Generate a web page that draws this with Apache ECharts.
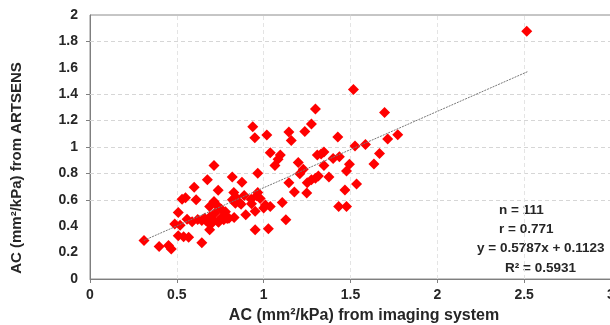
<!DOCTYPE html>
<html>
<head>
<meta charset="utf-8">
<script src="https://cdn.jsdelivr.net/npm/echarts@6/dist/echarts.min.js"></script>
<style>html,body{margin:0;padding:0;background:#fff}#c{width:610px;height:325px}</style>
</head>
<body>
<div id="c"></div>
<script>
// Points (x: imaging system, y: ARTSENS)
const xVals = [0.311,0.398,0.452,0.468,0.488,0.508,0.508,0.519,0.530,0.539,0.550,0.568,0.559,0.588,0.600,0.611,0.644,0.644,0.676,0.678,
0.689,0.689,0.714,0.714,0.738,0.738,0.756,0.770,0.790,0.819,0.828,0.830,0.837,0.875,0.870,0.897,0.888,0.928,0.937,0.949,
0.951,0.951,0.966,0.966,0.980,1.000,1.018,1.027,1.038,1.038,1.065,1.083,1.096,1.107,1.128,1.145,1.145,1.159,1.177,1.199,
1.208,1.228,1.237,1.248,1.251,1.275,1.275,1.298,1.298,1.315,1.309,1.331,1.347,1.347,1.376,1.400,1.427,1.436,1.432,1.468,
1.477,1.477,1.494,1.517,1.526,1.535,1.586,1.635,1.667,1.696,1.714,1.772,2.515,
0.62,0.66,0.67,0.69,0.70,0.71,0.72,0.73,0.74,0.76,0.78,0.80,0.82,0.84,0.86,0.93,0.96,1.01];
const yVals = [0.292,0.247,0.254,0.227,0.416,0.504,0.327,0.408,0.605,0.320,0.615,0.317,0.453,0.433,0.695,0.600,0.275,0.443,0.751,0.431,
0.373,0.549,0.859,0.587,0.673,0.436,0.529,0.448,0.458,0.773,0.655,0.466,0.574,0.733,0.567,0.486,0.632,0.605,1.154,1.071,
0.514,0.373,0.801,0.655,0.610,0.537,1.091,0.380,0.549,0.957,0.859,0.907,0.940,0.579,0.448,0.730,1.113,1.050,0.660,0.882,
0.798,0.831,1.118,0.652,0.730,1.174,0.751,1.287,0.763,0.781,0.940,0.947,0.859,0.962,0.773,0.912,1.076,0.927,0.549,0.675,
0.819,0.549,0.869,1.436,1.008,0.720,1.018,0.872,0.950,1.262,1.060,1.093,1.877,
0.45,0.46,0.44,0.47,0.42,0.45,0.50,0.56,0.43,0.47,0.51,0.46,0.60,0.62,0.58,0.57,0.63,0.56];
// Trend line end points
const trendX = [0.31, 2.52];
const trendY = [0.292, 1.571];
// Axis ticks
const xTicks = [0, 0.5, 1, 1.5, 2, 2.5, 3];
const yTicks = [0, 0.2, 0.4, 0.6, 0.8, 1, 1.2, 1.4, 1.6, 1.8, 2];
const yGridVals = [0.6, 0.8, 1, 1.2, 1.4, 1.8];
const xGridVals = [0.5, 1, 1.5, 2, 2.5];
const statLines = ['n = 111', 'r = 0.771', 'y = 0.5787x + 0.1123', 'R\u00B2 = 0.5931'];
const xTitle = 'AC (mm\u00B2/kPa) from imaging system';
const yTitle = 'AC (mm\u00B2/kPa) from ARTSENS';

const font = "'Liberation Sans', Arial, sans-serif";
const chart = echarts.init(document.getElementById('c'), null, {renderer: 'canvas'});
const pts = xVals.map((x, i) => [x, yVals[i]]);
const statPos = [[499, 210], [499, 229], [477, 248], [505, 268]];
const option = {
  animation: false,
  grid: {left: 90, top: 15, width: 521, height: 264, show: true, borderColor: '#8c8c8c', borderWidth: 1,
    backgroundColor: 'transparent', containLabel: false, outerBoundsMode: 'none'},
  xAxis: {
    type: 'value', min: xTicks[0], max: xTicks[xTicks.length - 1], interval: 0.5,
    axisLine: {show: true, lineStyle: {color: '#7f7f7f', width: 1}},
    axisTick: {show: true, length: 4, lineStyle: {color: '#7f7f7f'}},
    axisLabel: {color: '#262626', fontWeight: 'bold', fontSize: 14, fontFamily: font, margin: 9,
      formatter: v => String(v)},
    splitLine: {show: false}
  },
  yAxis: {
    type: 'value', min: yTicks[0], max: yTicks[yTicks.length - 1], interval: 0.2,
    axisLine: {show: true, lineStyle: {color: '#7f7f7f', width: 1}},
    axisTick: {show: true, length: 4, lineStyle: {color: '#7f7f7f'}, customValues: yGridVals},
    axisLabel: {color: '#262626', fontWeight: 'bold', fontSize: 14, fontFamily: font, margin: 12,
      formatter: v => String(Math.round(v * 10) / 10)},
    splitLine: {show: false}
  },
  series: [
    {
      type: 'scatter', data: [], silent: true, z: 1,
      markLine: {
        silent: true, symbol: 'none', animation: false, z: 1,
        label: {show: false},
        lineStyle: {color: '#d6d6d6', type: [4, 3], width: 1},
        data: yGridVals.map(v => ({yAxis: v})).concat(xGridVals.map(v => ({xAxis: v, lineStyle: {color: '#e4e4e4', type: [4, 3], width: 1}})))
      }
    },
    {
      type: 'scatter', data: pts, symbol: 'diamond', symbolSize: [11, 11],
      itemStyle: {color: '#ff0000', opacity: 1}, z: 6
    },
    {
      type: 'line', data: trendX.map((x, i) => [x, trendY[i]]), symbol: 'none',
      lineStyle: {color: '#777777', width: 1, type: [2, 1]}, z: 7, silent: true
    }
  ],
  graphic: [
    {type: 'text', x: 364, y: 316, style: {text: xTitle, font: 'bold 16px ' + font, fill: '#262626', align: 'center', verticalAlign: 'middle'}},
    {type: 'text', x: 17, y: 168, rotation: Math.PI / 2, style: {text: yTitle, font: 'bold 15px ' + font, fill: '#262626', align: 'center', verticalAlign: 'middle'}}
  ].concat(statLines.map((t, i) => ({
    type: 'text', x: statPos[i][0], y: statPos[i][1],
    style: {text: t, font: 'bold 13.5px ' + font, fill: '#262626', verticalAlign: 'middle'}
  })))
};
chart.setOption(option);
</script>
</body>
</html>
